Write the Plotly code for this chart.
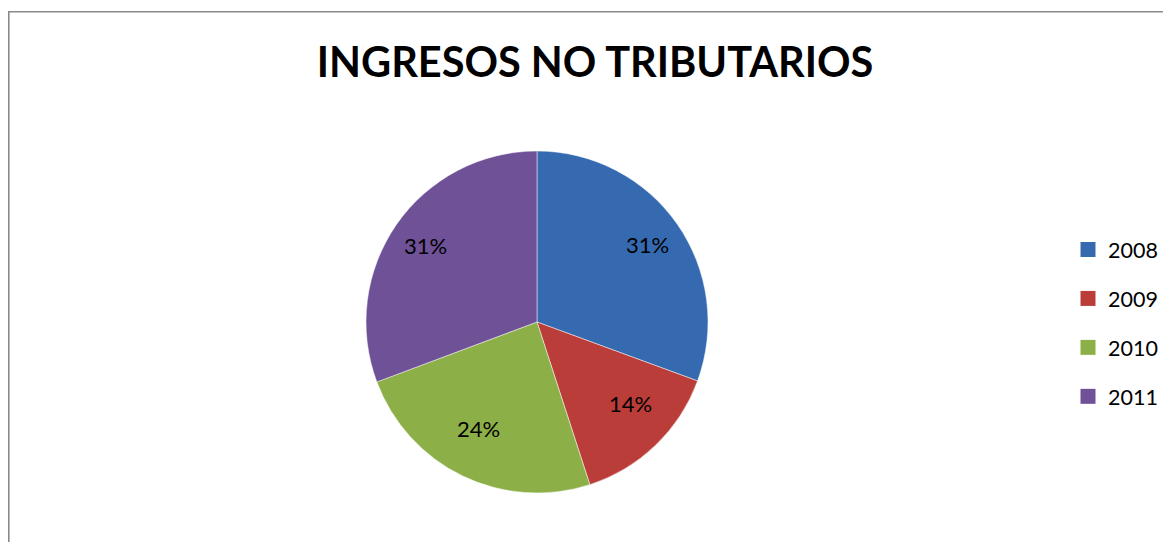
import math
import plotly.graph_objects as go

# Data
years = ['2008', '2009', '2010', '2011']
shares = [30.6, 14.4, 24.3, 30.7]
colors = ['#356AB0', '#BB3D39', '#8DAF47', '#6E5197']

# page body adds an 8px margin, so the figure is a bit smaller than the window
W, H = 1163, 534
CX, CY, R = 529, 314, 171   # pie centre / radius in px
LABEL_R = 0.79              # where the percentage labels sit, fraction of radius

fig = go.Figure()

fig.add_trace(go.Pie(labels=years, values=shares, sort=False, direction='clockwise',
                     rotation=0, marker=dict(colors=colors, line=dict(color='rgba(255,255,255,0.6)', width=0.8)),
                     textinfo='none', hoverinfo='label+percent',
                     domain=dict(x=[(CX-R)/W, (CX+R)/W], y=[(H-CY-R)/H, (H-CY+R)/H]),
                     showlegend=False))

# percentage labels placed at the middle angle of each slice
total = sum(shares)
annotations = []
cum = 0
for v in shares:
    mid = (cum + v/2) / total * 2 * math.pi
    cum += v
    px_x = CX + LABEL_R * R * math.sin(mid)
    px_y = CY - LABEL_R * R * math.cos(mid)
    annotations.append(dict(x=px_x/W, y=1-px_y/H, xref='paper', yref='paper', showarrow=False,
                            text=f'{round(v/total*100)}%',
                            font=dict(family='Lato', size=22, color='black')))

# legend entries as square markers, one group each so they can be spaced out
for y, c in zip(years, colors):
    fig.add_trace(go.Scatter(x=[None], y=[None], mode='markers', name=y, legendgroup=y,
                             marker=dict(symbol='square', size=15, color=c)))

fig.update_xaxes(visible=False)
fig.update_yaxes(visible=False)

fig.update_layout(
    width=W, height=H,
    title=dict(text='<b>INGRESOS NO TRIBUTARIOS</b>', x=587/W, xanchor='center', y=1-54/H, yanchor='middle',
               font=dict(family='Lato', size=41.5, color='black')),
    legend=dict(x=1060/W, y=1-221/H, xanchor='left', yanchor='top', tracegroupgap=18,
                font=dict(family='Lato', size=21.5, color='black'), itemwidth=30),
    plot_bgcolor='white', paper_bgcolor='white',
    margin=dict(t=0, b=0, l=0, r=0),
    annotations=annotations,
    # chart frame: only its top and left edges fall inside the window
    shapes=[dict(type='rect', xref='paper', yref='paper', x0=0.8/W, x1=1.05, y0=-0.05, y1=1-3.8/H,
                 line=dict(color='#8a8a8a', width=1.6), fillcolor='rgba(0,0,0,0)', layer='above')],
)

fig.write_html("out.html")
